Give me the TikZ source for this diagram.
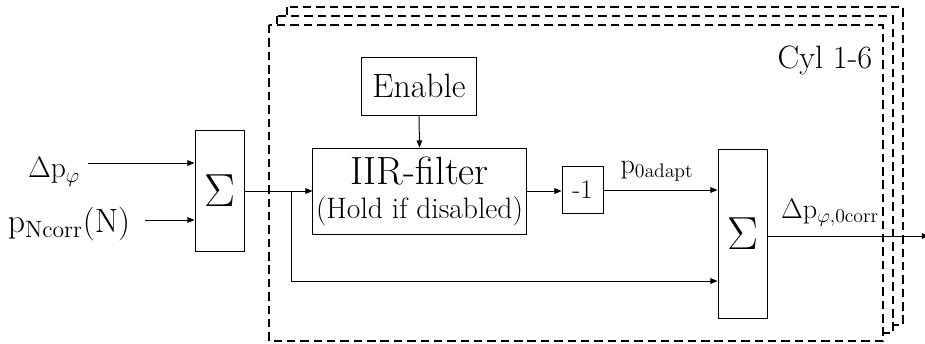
\RequirePackage{fix-cm}
\documentclass[tikz,border=0pt]{standalone}
\usepackage{amsmath}
\usetikzlibrary{arrows.meta}

\tikzset{
  block/.style={draw, line width=0.7pt, inner sep=0pt},
  wire/.style={line width=0.7pt},
  sig/.style={wire, -{Triangle[length=5pt,width=4pt]}},
  cyl/.style={draw, fill=white, line width=1.3pt, dash pattern=on 6pt off 3.5pt},
}
\newcommand{\fs}[1]{\fontsize{#1}{#1}\selectfont}

\begin{document}
\begin{tikzpicture}[x=0.025cm, y=-0.025cm]
  \useasboundingbox (0,0) rectangle (925,343);

  % Stacked frames, one per cylinder (back to front)
  \draw[cyl] (287,7) rectangle (903,325);
  \draw[cyl] (277,16) rectangle (893,333);
  \draw[cyl] (269,25) rectangle (883,341);
  \node (cyl) at (825,60) {\fs{23}Cyl 1-6};

  % Blocks
  \node[block, minimum width=1.225cm, minimum height=3cm] (sumA) at (219.5,191) {\fs{33}$\Sigma$};
  \node[block, minimum width=2.85cm, minimum height=1.45cm] (enable) at (419,86) {\fs{24}Enable};
  \node[block, minimum width=5.325cm, minimum height=2.15cm, align=center] (iir) at (419.5,191)
    {\fs{28}IIR-filter\\[7pt]\fs{21}(Hold if disabled)};
  \node[block, minimum width=1.025cm, minimum height=1.175cm] (neg) at (582.5,190) {\fs{19}-1};
  \node[block, minimum width=1.225cm, minimum height=4.2cm] (sumB) at (742.5,234) {\fs{33}$\Sigma$};

  % Inputs
  \node (dp) at (54,172) {\fs{21}$\Delta\mathrm{p}_{\varphi}$};
  \node (pn) at (69,224) {\fs{24}$\mathrm{p}_{\mathrm{Ncorr}}(\mathrm{N})$};
  \coordinate (dpend) at (88,163);
  \coordinate (pnend) at (145,220);
  \draw[sig] (dpend) -- (dpend -| sumA.west);
  \draw[sig] (pnend) -- (pnend -| sumA.west);

  % Filter path
  \coordinate (split) at (291,191);
  \coordinate (bend) at (291,281);
  \draw[sig] (sumA.east) -- (iir.west);
  \draw[sig] (enable.south) -- (iir.north);
  \draw[sig] (iir.east) -- (iir.east -| neg.west);
  \draw[sig] (neg.east) -- (neg.east -| sumB.west);
  \node (pad) at (657,171) {\fs{20}$\mathrm{p}_{\mathrm{0adapt}}$};

  % Bypass and output
  \draw[sig] (split) -- (bend) -- (bend -| sumB.west);
  \coordinate (out) at (929,236);
  \draw[sig] (sumB.east |- out) -- (out);
  \node (dpc) at (830,213) {\fs{20}$\Delta\mathrm{p}_{\varphi,\mathrm{0corr}}$};
\end{tikzpicture}
\end{document}
